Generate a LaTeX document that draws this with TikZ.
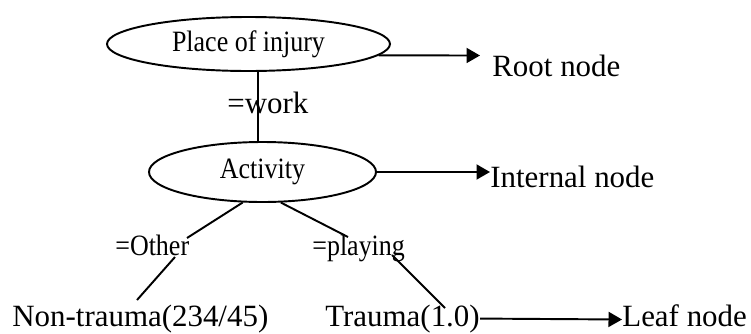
\documentclass[tikz,border=0pt]{standalone}
\usepackage{fontspec}
\setmainfont{Liberation Serif}
\newfontfamily\condserif[FakeStretch=0.88]{Liberation Serif}
\usepackage{tikz}
\usepackage{tkz-euclide}
\usetikzlibrary{shapes.geometric,arrows.meta}

\newcommand{\keyfont}{\fontsize{17.6}{21}\selectfont}
\newcommand{\lblfont}{\condserif\fontsize{16.8}{20}\selectfont}

\tikzset{
    treeline/.style={line width=1.1pt},
    pointer/.style={line width=1.1pt,-{Triangle[length=0.27cm,width=0.3cm]}},
    oval/.style={draw,ellipse,line width=1.1pt,inner sep=0pt,font=\lblfont},
    keytext/.style={inner sep=0pt,anchor=base west,font=\keyfont},
    lbltext/.style={inner sep=0pt,anchor=base west,font=\lblfont}
}

\begin{document}
\begin{tikzpicture}
                \useasboundingbox (0,0) rectangle (15.02,6.66);

                \tkzDefPoints{3.74/1.90/o1, 3.5/1.52/o2, 2.74/0.66/o3}
                \tkzDefPoints{6.96/1.92/p1, 7.84/1.56/p2, 8.9/0.50/p3}

                \tkzDefPoint(9.6,5.55){rtip}
                \tkzDefPoint(9.8,3.22){itip}
                \tkzDefPoint(12.44,0.27){ltip}

                \node[oval,minimum width=5.66cm,minimum height=1.08cm] (place) at (4.97,5.78) {Place of injury};
                \node[oval,minimum width=4.54cm,minimum height=1.20cm] (act) at (5.25,3.22) {Activity};

                \node[keytext] (work) at (4.54,4.40) {=work};
                \node[lbltext] (other) at (2.3,1.56) {=Other};
                \node[lbltext] (play) at (6.24,1.56) {=playing};

                \node[keytext] (nontr) at (0.24,0.14) {Non-trauma(234/45)};
                \node[keytext] (trauma) at (6.5,0.14) {Trauma(1.0)};

                \node[keytext] (rootlbl) at (9.84,5.14) {Root node};
                \node[keytext] (intlbl) at (9.8,2.92) {Internal node};
                \node[keytext] (leaflbl) at (12.44,0.14) {Leaf node};

                \draw[treeline] (place.-72.5) -- (place.-72.5 |- act.north);
                \draw[treeline] (act.-123) -- (o1);
                \draw[treeline] (o2) -- (o3);
                \draw[treeline] (act.-59.7) -- (p1);
                \draw[treeline] (p2) -- (p3);

                \draw[pointer] (place.-5) -- (rtip);
                \draw[pointer] (act.east) -- (itip);
                \draw[pointer] (trauma.east) -- (ltip);
            \end{tikzpicture}
\end{document}
